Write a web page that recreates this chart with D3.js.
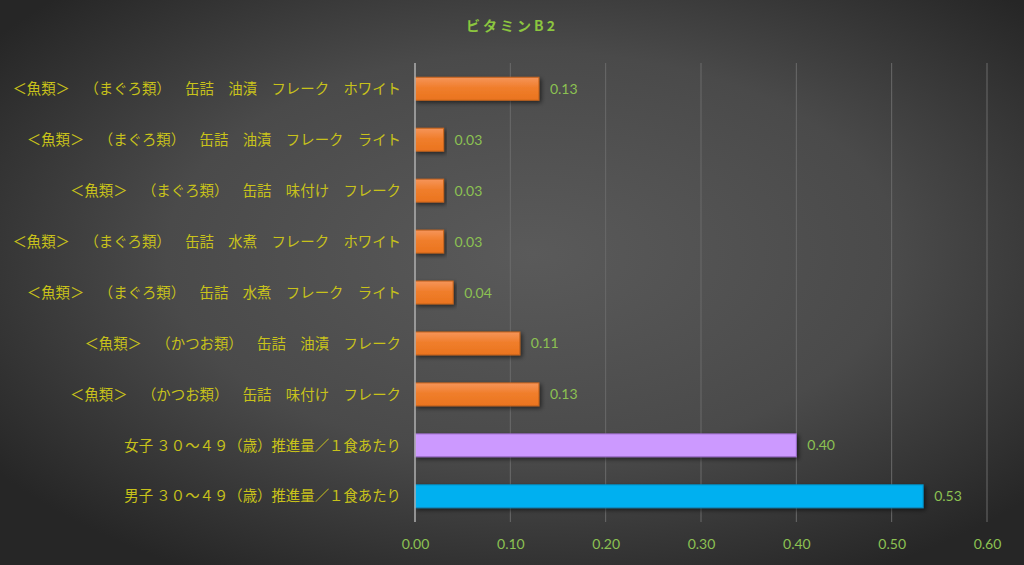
<!DOCTYPE html>
<html>
<head>
<meta charset="utf-8">
<script src="https://cdn.jsdelivr.net/npm/d3@7"></script>
<style>
  html, body { margin: 0; padding: 0; background: #333; }
  svg { display: block; }
  text { text-spacing-trim: space-all; font-feature-settings: "palt" 0; }
</style>
</head>
<body>
<div id="chart"></div>
<script>
// data, top to bottom
var categories = [
  "＜魚類＞　（まぐろ類）　缶詰　油漬　フレーク　ホワイト",
  "＜魚類＞　（まぐろ類）　缶詰　油漬　フレーク　ライト",
  "＜魚類＞　（まぐろ類）　缶詰　味付け　フレーク",
  "＜魚類＞　（まぐろ類）　缶詰　水煮　フレーク　ホワイト",
  "＜魚類＞　（まぐろ類）　缶詰　水煮　フレーク　ライト",
  "＜魚類＞　（かつお類）　缶詰　油漬　フレーク",
  "＜魚類＞　（かつお類）　缶詰　味付け　フレーク",
  "女子 ３０～４９（歳）推進量／１食あたり",
  "男子 ３０～４９（歳）推進量／１食あたり"
];
var values = [0.13, 0.03, 0.03, 0.03, 0.04, 0.11, 0.13, 0.40, 0.533];
var ticks = [0, 0.1, 0.2, 0.3, 0.4, 0.5, 0.6];
var title = "ビタミンB2";

var width = 1024, height = 565;
var margin = {left: 415, right: 37, top: 63, bottom: 43};

var svg = d3.select('#chart').append('svg')
  .attr('width', width)
  .attr('height', height);

var defs = svg.append('defs');
var bg = defs.append('radialGradient').attr('id', 'bg')
  .attr('cx', '52%').attr('cy', '45%').attr('r', '65%');
bg.append('stop').attr('offset', '0%').attr('stop-color', '#5a5a5a');
bg.append('stop').attr('offset', '55%').attr('stop-color', '#4a4a4a');
bg.append('stop').attr('offset', '100%').attr('stop-color', '#262626');

var og = defs.append('linearGradient').attr('id', 'orange')
  .attr('x1', 0).attr('y1', 0).attr('x2', 0).attr('y2', 1);
og.append('stop').attr('offset', '0%').attr('stop-color', '#f6955a');
og.append('stop').attr('offset', '45%').attr('stop-color', '#f07e2c');
og.append('stop').attr('offset', '100%').attr('stop-color', '#ea741e');

var sh = defs.append('filter').attr('id', 'shadow')
  .attr('x', '-5%').attr('y', '-30%').attr('width', '115%').attr('height', '180%');
sh.append('feDropShadow').attr('dx', 2).attr('dy', 2).attr('stdDeviation', 2)
  .attr('flood-color', '#000').attr('flood-opacity', 0.55);

svg.append('rect').attr('width', width).attr('height', height).attr('fill', 'url(#bg)');

var x = d3.scaleLinear().domain([0, 0.6]).range([margin.left, width - margin.right]);
var y = d3.scaleBand().domain(categories)
  .range([margin.top, height - margin.bottom])
  .paddingInner(0.55).paddingOuter(0.28);

var colors = d3.scaleOrdinal()
  .domain(categories)
  .range(['url(#orange)', 'url(#orange)', 'url(#orange)', 'url(#orange)', 'url(#orange)',
          'url(#orange)', 'url(#orange)', '#cc99ff', '#00b0f0']);
var strokes = d3.scaleOrdinal()
  .domain(categories)
  .range(['#c8641c', '#c8641c', '#c8641c', '#c8641c', '#c8641c', '#c8641c', '#c8641c', '#9a6cc9', '#0a8fc4']);

// gridlines
svg.append('g')
  .selectAll('line').data(ticks.slice(1)).enter().append('line')
  .attr('x1', function(d) { return x(d); })
  .attr('x2', function(d) { return x(d); })
  .attr('y1', margin.top)
  .attr('y2', height - margin.bottom)
  .attr('stroke', '#6a6a6a')
  .attr('stroke-width', 1);

// bars
svg.append('g')
  .selectAll('rect').data(values).enter().append('rect')
  .attr('x', x(0))
  .attr('y', function(d, i) { return y(categories[i]); })
  .attr('width', function(d) { return x(d) - x(0); })
  .attr('height', y.bandwidth())
  .attr('fill', function(d, i) { return colors(categories[i]); })
  .attr('stroke', function(d, i) { return strokes(categories[i]); })
  .attr('stroke-width', 1)
  .attr('filter', 'url(#shadow)');

// axis line
svg.append('line')
  .attr('x1', x(0)).attr('x2', x(0))
  .attr('y1', margin.top).attr('y2', height - margin.bottom)
  .attr('stroke', '#b0b0b0').attr('stroke-width', 1.5);

// value labels
svg.append('g')
  .selectAll('text').data(values).enter().append('text')
  .attr('x', function(d) { return x(d) + 11; })
  .attr('y', function(d, i) { return y(categories[i]) + y.bandwidth() / 2; })
  .attr('dy', '0.36em')
  .attr('fill', '#8cc152')
  .attr('font-family', 'Lato, sans-serif')
  .attr('font-size', 14)
  .text(function(d) { return d3.format('.2f')(d); });

// category labels
svg.append('g')
  .selectAll('text').data(categories).enter().append('text')
  .attr('x', x(0) - 14)
  .attr('y', function(d) { return y(d) + y.bandwidth() / 2; })
  .attr('dy', '0.36em')
  .attr('text-anchor', 'end')
  .attr('fill', '#c8c21a')
  .attr('font-family', '"Noto Sans CJK JP", sans-serif')
  .attr('font-size', 14.4)
  .text(function(d) { return d; });

// x axis tick labels
var xAxis = d3.axisBottom(x).tickValues(ticks).tickFormat(d3.format('.2f')).tickSize(0).tickPadding(17);
var ax = svg.append('g')
  .attr('transform', 'translate(0,' + (height - margin.bottom) + ')')
  .call(xAxis);
ax.select('.domain').remove();
ax.selectAll('text')
  .attr('fill', '#8cc152')
  .attr('font-family', 'Lato, sans-serif')
  .attr('font-size', 14);

// title
svg.append('text')
  .attr('x', 512).attr('y', 31)
  .attr('text-anchor', 'middle')
  .attr('fill', '#8cc63f')
  .attr('font-family', '"Noto Sans CJK JP", sans-serif')
  .attr('font-weight', 'bold')
  .attr('font-size', 14)
  .attr('letter-spacing', 3)
  .text(title);
</script>
</body>
</html>
